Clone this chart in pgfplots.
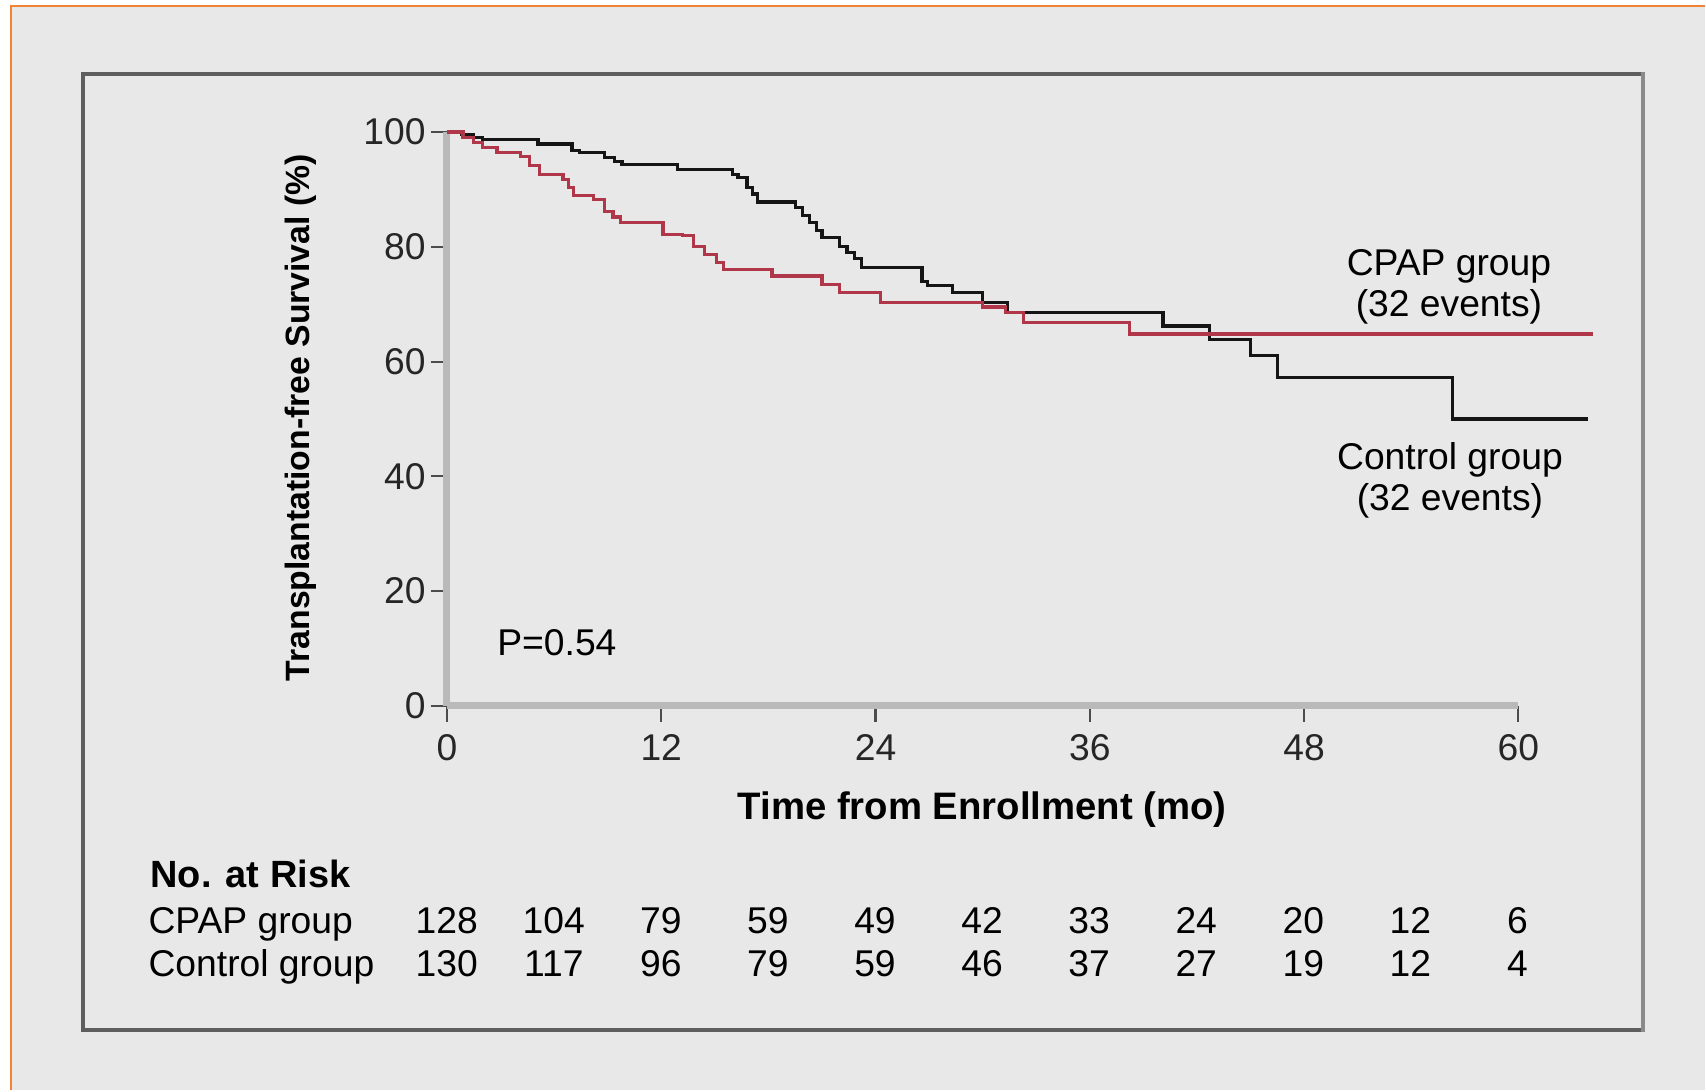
\documentclass[border=0pt]{standalone}
\usepackage{fontspec}
\setmainfont{Liberation Sans}
\usepackage{pgfplots}
\pgfplotsset{compat=1.18}
\definecolor{bg}{HTML}{E8E8E8}
\definecolor{frameC}{HTML}{5E5E5E}
\definecolor{frameR}{HTML}{8A8A8A}
\definecolor{orangeC}{HTML}{F08434}
\definecolor{axgray}{HTML}{B9B9B9}
\definecolor{cpapred}{HTML}{B0364A}
\definecolor{ctrlblack}{HTML}{151515}
\newcommand{\reg}{\fontsize{10.6}{12}\selectfont}
\begin{document}
\begin{tikzpicture}[x=0.01cm,y=0.01cm]
\fill[white] (0,0) rectangle (1706,1091);
\fill[bg] (11,0) rectangle (1706,1085);
\draw[orangeC, line width=0.025cm] (11,0) -- (11,1085) -- (1706,1085);
\draw[frameC, line width=0.04cm] (1644,60) -- (83,60) -- (83,1017) -- (1644,1017);
\draw[frameR, line width=0.04cm] (1644,1019) -- (1644,58);

\begin{axis}[
  at={(4.47cm,3.843cm)}, anchor=south west,
  scale only axis, width=10.716cm, height=5.74cm,
  xmin=0, xmax=60, ymin=0, ymax=100,
  clip=false,
  axis x line=bottom, axis y line=left,
  axis line style={axgray, line width=0.07cm, -},
  xtick={0,12,...,60}, ytick={0,20,...,100},
  tick style={black!70, line width=0.6pt},
  tick align=outside, major tick length=0.16cm,
  ticklabel style={font=\reg, text=black!85},
  yticklabel style={xshift=0.07cm},
  /pgf/number format/assume math mode=true,
]
\addplot[const plot, ctrlblack, line width=0.9pt] coordinates {
(0,100) (0.8,99.6) (1.5,99.0) (2.0,98.7) (5.1,97.9) (7.0,96.8) (7.4,96.4)
(8.8,95.5) (9.4,94.9) (9.8,94.4) (12.9,93.5) (16.0,92.6) (16.3,92.1)
(16.8,90.3) (17.1,89.2) (17.4,87.8) (19.5,86.8) (19.9,85.5) (20.3,84.2)
(20.7,82.8) (21.0,81.6) (22.0,80.1) (22.4,79.0) (22.8,78.0) (23.2,76.4)
(26.6,74.0) (26.9,73.3) (28.3,72.0) (30.0,70.3) (31.4,68.5) (40.1,66.2)
(42.7,63.9) (45.0,61.0) (46.5,57.2) (56.3,50.0) (63.9,50.0)
};
\addplot[const plot, cpapred, line width=0.9pt] coordinates {
(0,100) (0.9,99.0) (1.5,98.2) (2.0,97.3) (2.8,96.4) (4.1,95.8) (4.6,94.1)
(5.2,92.6) (6.5,91.8) (6.8,90.3) (7.1,88.9) (8.2,88.3) (8.8,86.2) (9.3,85.2)
(9.7,84.2) (12.1,82.2) (13.2,81.9) (13.8,80.1) (14.4,78.7) (15.1,77.2)
(15.5,76.1) (18.2,74.9) (21.0,73.5) (22.0,72.0) (24.3,70.3) (30.0,69.5)
(31.3,68.5) (32.3,66.8) (38.2,64.8) (64.2,64.8)
};
\end{axis}

% axis titles
\node[rotate=90, font=\bfseries\fontsize{9.6}{12}\selectfont] at (301,673) {Transplantation-free Survival (\%)};
\node[anchor=base, font=\bfseries\fontsize{10.9}{13}\selectfont] at (983,271) {Time from Enrollment (mo)};
\node[anchor=base west, inner sep=0pt, font=\reg] at (497,435) {P=0.54};

% curve labels
\node[anchor=base, inner sep=0pt, font=\reg] at (1450,815) {CPAP group};
\node[anchor=base, inner sep=0pt, font=\reg] at (1450,774) {(32 events)};
\node[anchor=base, inner sep=0pt, font=\reg] at (1451,621) {Control group};
\node[anchor=base, inner sep=0pt, font=\reg] at (1451,580) {(32 events)};

% number at risk
\node[anchor=base west, inner sep=0pt, font=\bfseries\fontsize{10.8}{13}\selectfont] at (150,203) {No. at Risk};
\node[anchor=base west, inner sep=0pt, font=\reg] at (148,157) {CPAP group};
\node[anchor=base west, inner sep=0pt, font=\reg] at (148,114) {Control group};
\foreach \xx/\a/\b in {447/128/130, 554.2/104/117, 661.3/79/96, 768.5/59/79, 875.6/49/59, 982.8/42/46, 1089.9/33/37, 1197.1/24/27, 1304.3/20/19, 1411.4/12/12, 1518.6/6/4} {
  \node[anchor=base, inner sep=0pt, font=\reg] at (\xx,157) {\a};
  \node[anchor=base, inner sep=0pt, font=\reg] at (\xx,114) {\b};
}
\end{tikzpicture}
\end{document}
